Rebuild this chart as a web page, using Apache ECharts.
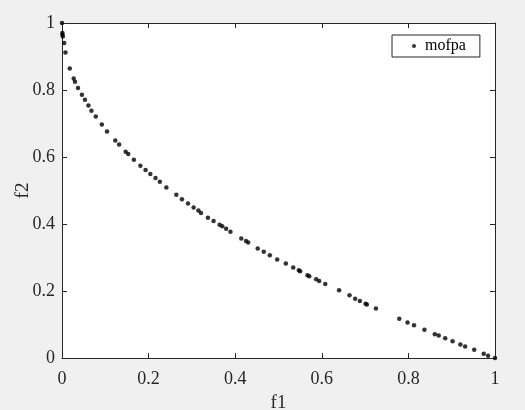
<!DOCTYPE html>
<html>
<head>
<meta charset="utf-8">
<script src="https://cdn.jsdelivr.net/npm/echarts@6/dist/echarts.min.js"></script>
<style>
html,body{margin:0;padding:0;background:#f0f0f0;}
#chart{width:525px;height:410px;}
</style>
</head>
<body>
<div id="chart"></div>
<script>
var seriesName = 'mofpa';
var xTickLabels = ['0', '0.2', '0.4', '0.6', '0.8', '1'];
var yTickLabels = ['0', '0.2', '0.4', '0.6', '0.8', '1'];
var f1Values = [0, 0.001, 0.001, 0.002, 0.005, 0.008, 0.018, 0.027, 0.030, 0.037, 0.046, 0.053, 0.061, 0.068, 0.078, 0.092, 0.104, 0.123, 0.132, 0.147, 0.153, 0.166, 0.181, 0.193, 0.204, 0.216, 0.226, 0.241, 0.264, 0.277, 0.291, 0.304, 0.315, 0.321, 0.337, 0.350, 0.364, 0.370, 0.379, 0.389, 0.414, 0.425, 0.430, 0.452, 0.466, 0.480, 0.497, 0.517, 0.534, 0.547, 0.550, 0.567, 0.571, 0.587, 0.594, 0.608, 0.640, 0.664, 0.677, 0.688, 0.701, 0.704, 0.725, 0.779, 0.798, 0.813, 0.837, 0.861, 0.870, 0.885, 0.902, 0.920, 0.931, 0.952, 0.974, 0.984, 1.0];
var f2Values = [1.0, 0.970, 0.965, 0.960, 0.940, 0.912, 0.864, 0.834, 0.825, 0.806, 0.786, 0.771, 0.754, 0.738, 0.721, 0.697, 0.676, 0.649, 0.637, 0.616, 0.609, 0.592, 0.574, 0.561, 0.549, 0.537, 0.526, 0.509, 0.487, 0.474, 0.461, 0.449, 0.440, 0.433, 0.419, 0.409, 0.398, 0.393, 0.386, 0.377, 0.357, 0.349, 0.345, 0.327, 0.317, 0.307, 0.294, 0.282, 0.270, 0.262, 0.259, 0.247, 0.244, 0.235, 0.230, 0.221, 0.202, 0.187, 0.177, 0.170, 0.162, 0.160, 0.148, 0.117, 0.106, 0.098, 0.084, 0.071, 0.067, 0.059, 0.050, 0.040, 0.034, 0.025, 0.013, 0.007, 0.0];

var points = f1Values.map(function (v, i) { return [v, f2Values[i]]; });
var FONT = '"Liberation Serif", "Times New Roman", serif';
var AXC = '#262626';

function axisBase(extra) {
  var a = {
    type: 'value', min: 0, max: 1, interval: 0.2,
    axisLine: { show: true, onZero: false, lineStyle: { color: AXC, width: 1 } },
    axisTick: { show: true, inside: true, length: 5, lineStyle: { color: AXC } },
    splitLine: { show: false }
  };
  for (var k in extra) a[k] = extra[k];
  return a;
}

var chart = echarts.init(document.getElementById('chart'));
chart.setOption({
  backgroundColor: '#f0f0f0',
  animation: false,
  grid: { left: 62, top: 23, width: 433, height: 335, backgroundColor: '#ffffff', show: true, borderWidth: 0,
    containLabel: false, outerBoundsMode: 'none' },
  legend: {
    left: 392, top: 35,
    padding: [3, 14, 3, 20],
    backgroundColor: '#ffffff',
    borderColor: AXC, borderWidth: 1, borderRadius: 0,
    itemWidth: 4, itemHeight: 4,
    icon: 'circle',
    textStyle: { fontFamily: FONT, fontSize: 16, color: '#000', lineHeight: 16, padding: [0, 0, 0, 4] },
    data: [seriesName]
  },
  xAxis: [
    axisBase({
      position: 'bottom',
      name: 'f1', nameLocation: 'middle', nameGap: 36, nameMoveOverlap: false,
      nameTextStyle: { fontFamily: FONT, fontSize: 19, color: AXC },
      axisLabel: { show: true, margin: 12, fontFamily: FONT, fontSize: 18, color: AXC,
        formatter: function (v) { return xTickLabels[Math.round(v / 0.2)]; } }
    }),
    axisBase({ position: 'top', axisLabel: { show: false } })
  ],
  yAxis: [
    axisBase({
      position: 'left',
      name: 'f2', nameLocation: 'middle', nameGap: 29, nameMoveOverlap: false,
      nameTextStyle: { fontFamily: FONT, fontSize: 19, color: AXC },
      axisLabel: { show: true, margin: 7, fontFamily: FONT, fontSize: 18, color: AXC,
        padding: [3, 0, 0, 0],
        formatter: function (v) { return yTickLabels[Math.round(v / 0.2)]; } }
    }),
    axisBase({ position: 'right', axisLabel: { show: false } })
  ],
  series: [{
    name: seriesName,
    type: 'scatter',
    xAxisIndex: 0, yAxisIndex: 0,
    symbol: 'circle', symbolSize: 4.5,
    itemStyle: { color: '#000000' },
    data: points,
    clip: false
  }]
});
</script>
</body>
</html>
